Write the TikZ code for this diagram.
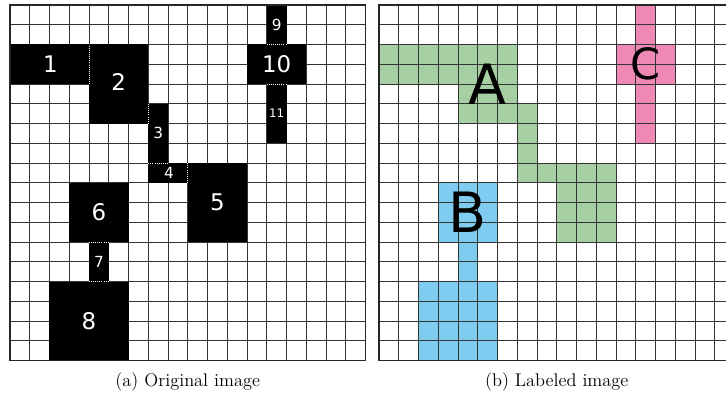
\documentclass[tikz,border=0pt]{standalone}
\usepackage{fontspec}
\newfontfamily\lblfont{DejaVu Sans}
\definecolor{rgA}{HTML}{A6D0A3}
\definecolor{rgB}{HTML}{80CCF1}
\definecolor{rgC}{HTML}{EE88B4}
\begin{document}
\begin{tikzpicture}[x=5mm,y=5mm,
  gl/.style={line width=0.6pt,draw=black!80},
  frame/.style={line width=1pt,draw=black!85},
  blk/.style={fill=black},
  cut/.style={draw=white,densely dotted,line width=0.5pt},
  num/.style={text=white,font=\lblfont\fontsize{16.5}{16.5}\selectfont,inner sep=0pt},
  snum/.style={text=white,font=\lblfont\fontsize{11}{11}\selectfont,inner sep=0pt},
  tnum/.style={text=white,font=\lblfont\fontsize{8.5}{8.5}\selectfont,inner sep=0pt},
  big/.style={font=\lblfont\fontsize{40}{40}\selectfont,inner sep=0pt},
  captxt/.style={font=\fontsize{13.2}{15}\selectfont,inner sep=0pt}]
  \clip (-0.506,-1.899) rectangle (36.25,18.253);
  % (a) original image
  \draw[gl,step=1] (0,0) grid (18,18);
  \fill[blk] (0,16) rectangle (4,14);
  \fill[blk] (4,16) rectangle (7,12);
  \fill[blk] (7,13) rectangle (8,10);
  \fill[blk] (7,10) rectangle (9,9);
  \fill[blk] (9,10) rectangle (12,6);
  \fill[blk] (3,9) rectangle (6,6);
  \fill[blk] (4,6) rectangle (5,4);
  \fill[blk] (2,4) rectangle (6,0);
  \fill[blk] (13,18) rectangle (14,16);
  \fill[blk] (12,16) rectangle (15,14);
  \fill[blk] (13,14) rectangle (14,11);
  \draw[cut] (4,14) -- (4,16);
  \draw[cut] (7,12) -- (7,13);
  \draw[cut] (7,10) -- (8,10);
  \draw[cut] (9,9) -- (9,10);
  \draw[cut] (4,6) -- (5,6);
  \draw[cut] (4,4) -- (5,4);
  \draw[cut] (13,16) -- (14,16);
  \draw[cut] (13,14) -- (14,14);
  \draw[frame] (0,0) rectangle (18,18);
  \node[num] (n1) at (2.05,15) {1};
  \node[num] (n2) at (5.5,14.1) {2};
  \node[snum] (n3) at (7.5,11.5) {3};
  \node[snum] (n4) at (8.05,9.5) {4};
  \node[num] (n5) at (10.5,8) {5};
  \node[num] (n6) at (4.5,7.5) {6};
  \node[snum] (n7) at (4.5,5) {7};
  \node[num] (n8) at (4,2) {8};
  \node[snum] (n9) at (13.5,17) {9};
  \node[num] (n10) at (13.5,15) {10};
  \node[tnum] (n11) at (13.5,12.5) {11};
  \node[captxt] (capa) at (9,-1.09) {(a) Original image};
  % (b) labeled image
  \begin{scope}[shift={(18.68,0)}]
    \fill[rgA] (0,16) rectangle (7,14);
    \fill[rgA] (4,14) rectangle (7,12);
    \fill[rgA] (7,13) rectangle (8,9);
    \fill[rgA] (8,10) rectangle (12,9);
    \fill[rgA] (9,9) rectangle (12,6);
    \fill[rgB] (3,9) rectangle (6,6);
    \fill[rgB] (4,6) rectangle (5,4);
    \fill[rgB] (2,4) rectangle (6,0);
    \fill[rgC] (13,18) rectangle (14,11);
    \fill[rgC] (12,16) rectangle (15,14);
    \draw[gl,step=1] (0,0) grid (18,18);
    \draw[frame] (0,0) rectangle (18,18);
    \node[big] (lA) at (5.5,14) {A};
    \node[big] (lB) at (4.5,7.5) {B};
    \node[big,font=\lblfont\fontsize{31}{31}\selectfont] (lC) at (13.5,15) {C};
    \node[captxt] (capb) at (9,-1.09) {(b) Labeled image};
  \end{scope}
\end{tikzpicture}
\end{document}
